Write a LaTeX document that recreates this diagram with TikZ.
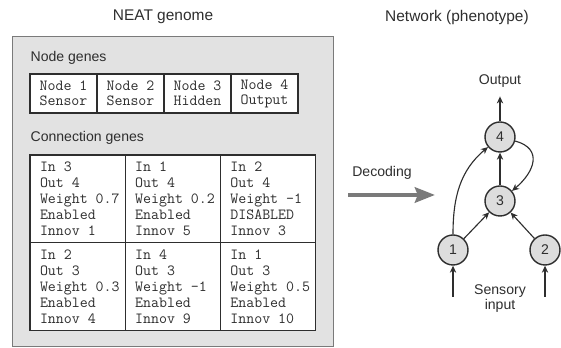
\documentclass[tikz,border=0pt]{standalone}
\usepackage{fontspec}
\setmainfont{Liberation Sans}
\usetikzlibrary{arrows.meta,positioning}

\definecolor{boxgray}{HTML}{E2E2E2}
\definecolor{rimgray}{HTML}{7A7A7A}
\definecolor{ink}{HTML}{2E2E2E}
\definecolor{neurongray}{HTML}{DDDDDD}

\newcommand{\genefont}{\fontsize{11}{11.4}\selectfont\ttfamily}
\newcommand{\labfont}{\fontsize{10}{10.7}\selectfont}

\begin{document}
\begin{tikzpicture}
[draw=ink, line width=0.9pt, >={Stealth[length=5pt,width=4.5pt]},
ngene/.style={rectangle, draw=ink, fill=white, inner sep=0pt, minimum width=1.675cm, minimum height=0.975cm, align=center, font=\fontsize{11}{10.7}\selectfont\ttfamily, text=ink},
cgene/.style={rectangle, draw=ink, fill=white, inner sep=0pt, minimum width=2.38cm, minimum height=2.19cm},
cgenetxt/.style={anchor=west, inner sep=0pt, align=left, font=\genefont, text=ink},
neuron/.style={circle, draw=ink, fill=neurongray, line width=1pt, minimum size=0.75cm, inner sep=0pt, font=\labfont, text=ink},
edge/.style={->, draw=ink, line width=0.8pt},
lbl/.style={font=\labfont, text=ink, align=center, inner sep=0pt},
title/.style={font=\fontsize{11}{13}\selectfont, text=ink}]

\useasboundingbox (0,0) rectangle (14.025,8.7);

\node[title] (gtitle) at (4.075,8.275) {NEAT genome};
\node[title] (ntitle) at (11.425,8.25) {Network (phenotype)};

% genome panel
\draw[fill=boxgray, draw=rimgray, line width=0.7pt] (0.3,0.05) rectangle (8.325,7.775);

\node[lbl, anchor=west] (nglab) at (0.75,7.25) {Node genes};
\foreach \i/\kind in {1/Sensor, 2/Sensor, 3/Hidden, 4/Output} {
  \node[ngene] (ng\i) at ({0.75+1.675*(\i-0.5)},6.3625) {Node \i\\\kind};
}

\node[lbl, anchor=west] (cglab) at (0.75,5.25) {Connection genes};
\foreach \c/\x/\y/\txt in {
  c1/1.94/3.73/{In 3\\Out 4\\Weight 0.7\\Enabled\\Innov 1},
  c2/4.32/3.73/{In 1\\Out 4\\Weight 0.2\\Enabled\\Innov 5},
  c3/6.70/3.73/{In 2\\Out 4\\Weight -1\\DISABLED\\Innov 3},
  c4/1.94/1.54/{In 2\\Out 3\\Weight 0.3\\Enabled\\Innov 4},
  c5/4.32/1.54/{In 4\\Out 3\\Weight -1\\Enabled\\Innov 9},
  c6/6.70/1.54/{In 1\\Out 3\\Weight 0.5\\Enabled\\Innov 10}} {
  \node[cgene] (\c) at (\x,\y) {};
  \node[cgenetxt] (t\c) at ([xshift=0.25cm]\c.west) {\txt};
}

% decoding arrow
\node[lbl] (declab) at (9.55,4.375) {Decoding};
\coordinate (dec1) at (8.7,3.825);
\coordinate (dec2) at (10.875,3.825);
\draw[-{Stealth[length=0.5cm,width=0.38cm,inset=0.07cm]}, draw=rimgray, fill=rimgray, line width=3.5pt] (dec1) -- (dec2);

% network
\node[neuron] (n4) at (12.5,5.275) {4};
\node[neuron] (n3) at (12.5,3.675) {3};
\node[neuron] (n1) at (11.325,2.45) {1};
\node[neuron] (n2) at (13.625,2.45) {2};

\node[lbl] (out) at (12.5,6.675) {Output};
\node[lbl] (sens) at (12.5,1.23) {Sensory\\input};
\coordinate (in1) at (11.325,1.275);
\coordinate (in2) at (13.625,1.275);

\draw[edge, shorten >=6pt] (n4) -- (out);
\draw[edge] (in1) -- (n1);
\draw[edge] (in2) -- (n2);
\draw[edge] (n1) -- (n3);
\draw[edge] (n2) -- (n3);
\draw[edge] (n3) -- (n4);
\draw[edge] (n1) to[out=90, in=220] (n4);
\draw[edge] (n4) to[out=-15, in=40, looseness=1.5] (n3);
\end{tikzpicture}
\end{document}
